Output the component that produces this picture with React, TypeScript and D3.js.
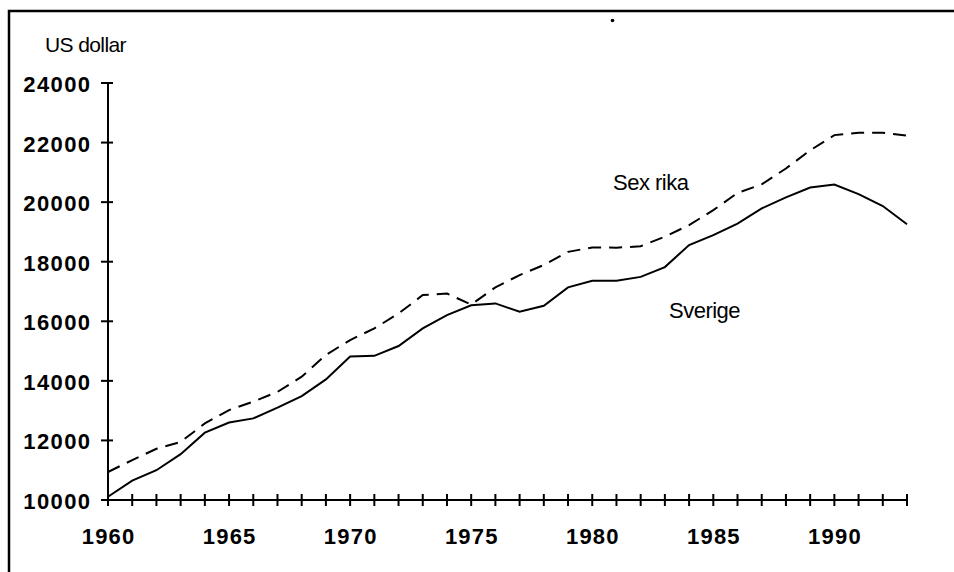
import React from 'react';
import * as d3 from 'd3';

const years = [1960, 1961, 1962, 1963, 1964, 1965, 1966, 1967, 1968, 1969, 1970, 1971, 1972, 1973, 1974, 1975, 1976,
  1977, 1978, 1979, 1980, 1981, 1982, 1983, 1984, 1985, 1986, 1987, 1988, 1989, 1990, 1991, 1992, 1993];
const sverige = [10110, 10650, 11000, 11540, 12260, 12600, 12740, 13100, 13490, 14050, 14820, 14840, 15170, 15760,
  16210, 16540, 16600, 16320, 16520, 17140, 17360, 17360, 17490, 17820, 18560, 18890, 19280, 19790, 20160, 20490,
  20590, 20270, 19870, 19260];
const sexRika = [10940, 11340, 11720, 11950, 12570, 13020, 13300, 13630, 14140, 14870, 15370, 15760, 16260, 16880,
  16930, 16560, 17140, 17550, 17890, 18330, 18480, 18470, 18520, 18840, 19230, 19730, 20310, 20600, 21130, 21740,
  22250, 22330, 22330, 22230];
const yTicks = [10000, 12000, 14000, 16000, 18000, 20000, 22000, 24000];
const xLabels = [1960, 1965, 1970, 1975, 1980, 1985, 1990];

const WIDTH = 954;
const HEIGHT = 572;
const FONT = '"Liberation Sans", Arial, Helvetica, sans-serif';

const App = () => {
  const xScale = d3.scaleLinear().domain([1960, 1993]).range([108, 907]);
  const yScale = d3.scaleLinear().domain([10000, 24000]).range([500, 83]);

  const line = d3.line<number>()
    .x((d, i) => xScale(years[i]))
    .y(d => yScale(d));

  const y0 = yScale(10000);
  const x0 = xScale(1960);

  return (
    <svg width={WIDTH} height={HEIGHT} style={{ position: 'absolute', left: 0, top: 0, background: '#fff' }}>
      {/* frame, cut off by the scan on the right and bottom */}
      <path d={`M9,${HEIGHT} V11 H${WIDTH}`} fill='none' stroke='#000' strokeWidth='2.5' />
      <circle cx='612.5' cy='20.5' r='1.8' fill='#000' />

      <text x='45' y='52' fontFamily={FONT} fontSize='21' letterSpacing='-0.6'>US dollar</text>

      {/* y axis */}
      <line x1={x0} x2={x0} y1={yScale(24000)} y2={y0} stroke='#000' strokeWidth='2' />
      {yTicks.map(v => (
        <g key={v}>
          <line x1={x0 - 7} x2={x0 + 5} y1={yScale(v)} y2={yScale(v)} stroke='#000' strokeWidth='2' />
          <text x='91.5' y={yScale(v) + 9} textAnchor='end' fontFamily={FONT} fontWeight='bold'
            fontSize='22' letterSpacing='1.4'>{v}</text>
        </g>
      ))}

      {/* x axis */}
      <line x1={x0} x2={xScale(1993)} y1={y0} y2={y0} stroke='#000' strokeWidth='2' />
      {years.map(yr => (
        <line key={yr} x1={xScale(yr)} x2={xScale(yr)} y1={y0 - 6} y2={y0 + 6} stroke='#000' strokeWidth='2' />
      ))}
      {xLabels.map(yr => (
        <text key={yr} x={xScale(yr) + 0.6} y='544' textAnchor='middle' fontFamily={FONT} fontWeight='bold'
          fontSize='22' letterSpacing='1.2'>{yr}</text>
      ))}

      <path d={line(sexRika) ?? ''} fill='none' stroke='#000' strokeWidth='2' strokeDasharray='13,8' />
      <path d={line(sverige) ?? ''} fill='none' stroke='#000' strokeWidth='2' />

      <text x='613' y='190' fontFamily={FONT} fontSize='22' letterSpacing='-0.5'>Sex rika</text>
      <text x='669' y='318' fontFamily={FONT} fontSize='22' letterSpacing='-0.5'>Sverige</text>
    </svg>
  );
};

export default App;
